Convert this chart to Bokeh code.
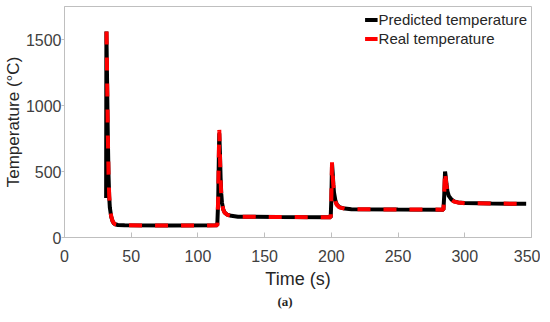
from bokeh.plotting import figure
from bokeh.models import Range1d, Legend, LegendItem, FixedTicker, Title
from bokeh.embed import file_html
from bokeh.resources import INLINE

# Predicted temperature (black)
t_pred = [31.2, 31.4, 32.0, 32.5, 33.0, 33.5, 34.0, 35.0, 36.0, 37.0, 38.0, 40.0, 45.0, 80.0,
          114.5, 115.2, 115.7, 116.0, 116.5, 117.0, 117.5, 118.0, 119.0, 120.0, 122.0, 125.0,
          130.0, 160.0, 199.5, 200.0, 200.5, 201.0, 201.5, 202.0, 203.0, 204.0, 206.0, 210.0,
          215.0, 250.0, 284.0, 284.6, 285.2, 285.6, 286.2, 287.0, 288.0, 290.0, 292.0, 295.0,
          300.0, 320.0, 346.0]
T_pred = [300, 1560, 1120, 740, 470, 310, 225, 158, 124, 107, 100, 95, 92, 91,
          93, 280, 620, 790, 640, 450, 330, 265, 212, 190, 173, 164,
          158, 155, 153, 290, 560, 490, 400, 340, 282, 252, 230, 219,
          214, 212, 211, 320, 500, 470, 410, 350, 315, 288, 274, 266,
          261, 258, 255]

# Real temperature (red)
t_real = [31.5, 32.0, 32.5, 33.0, 33.5, 34.0, 35.0, 36.0, 37.0, 38.0, 40.0, 45.0, 80.0,
          114.5, 115.2, 115.7, 116.0, 116.5, 117.0, 117.5, 118.0, 119.0, 120.0, 122.0, 125.0,
          130.0, 160.0, 199.5, 200.0, 200.5, 201.0, 201.5, 202.0, 203.0, 204.0, 206.0, 210.0,
          215.0, 250.0, 284.0, 284.6, 285.2, 285.6, 286.2, 287.0, 288.0, 290.0, 292.0, 295.0,
          300.0, 320.0, 346.0]
T_real = [1560, 1150, 760, 480, 320, 230, 160, 125, 108, 100, 95, 92, 91,
          92, 300, 650, 815, 620, 430, 320, 260, 210, 188, 172, 163,
          158, 155, 153, 300, 570, 470, 390, 330, 275, 248, 228, 218,
          214, 212, 211, 330, 505, 460, 400, 345, 310, 285, 272, 265,
          260, 258, 255]

x_ticks = [0, 50, 100, 150, 200, 250, 300, 350]
y_ticks = [0, 500, 1000, 1500]
series_labels = ["Predicted temperature", "Real temperature"]
x_label = "Time (s)"
y_label = "Temperature (°C)"
caption = "(a)"

FONT = "Liberation Sans"
GRAY = "#bfbfbf"
TXT = "#404040"

p = figure(frame_width=467, frame_height=231, output_backend="svg", toolbar_location=None,
           x_range=Range1d(0, 350), y_range=Range1d(0, 1750),
           min_border_left=58, min_border_right=9, min_border_top=6, min_border_bottom=0)
p.background_fill_color = "white"
p.border_fill_color = "white"
p.outline_line_color = GRAY
p.outline_line_width = 1
p.xgrid.visible = False
p.ygrid.visible = False

r_black = p.line(t_pred, T_pred, line_color="black", line_width=4)
r_red = p.line(t_real, T_real, line_color="#ff0000", line_width=4, line_dash="13 13")

for ax in (p.xaxis[0], p.yaxis[0]):
    ax.axis_line_color = GRAY
    ax.major_tick_line_color = GRAY
    ax.minor_tick_line_color = None
    ax.major_label_text_font = FONT
    ax.major_label_text_font_size = "16px"
    ax.major_label_text_color = TXT
    ax.axis_label_text_font = FONT
    ax.axis_label_text_font_style = "normal"
    ax.axis_label_text_color = "#262626"

p.xaxis[0].axis_label_text_font_size = "18px"
p.yaxis[0].axis_label_text_font_size = "17px"
p.xaxis[0].ticker = FixedTicker(ticks=x_ticks)
p.yaxis[0].ticker = FixedTicker(ticks=y_ticks)
p.xaxis[0].major_tick_in = 5
p.xaxis[0].major_tick_out = 0
p.xaxis[0].major_label_standoff = 12
p.xaxis[0].axis_label = x_label
p.xaxis[0].axis_label_standoff = 4
p.yaxis[0].major_tick_in = 0
p.yaxis[0].major_tick_out = 3
p.yaxis[0].major_label_standoff = 0
p.yaxis[0].axis_label = y_label
p.yaxis[0].axis_label_standoff = 0

legend = Legend(items=[LegendItem(label=series_labels[0], renderers=[r_black]),
                       LegendItem(label=series_labels[1], renderers=[r_red])],
                location="top_right", margin=4, padding=5, spacing=0,
                glyph_width=13, glyph_height=19, label_height=19, label_standoff=1,
                label_text_font=FONT, label_text_font_size="15px", label_text_color="#262626",
                border_line_color=None, background_fill_alpha=0)
p.add_layout(legend)

cap = Title(text=caption, align="left", offset=213, standoff=1,
            text_font="Liberation Serif", text_font_style="bold", text_font_size="13px",
            text_color="#262626")
p.add_layout(cap, "below")

open("out.html", "w").write(file_html(p, INLINE))
